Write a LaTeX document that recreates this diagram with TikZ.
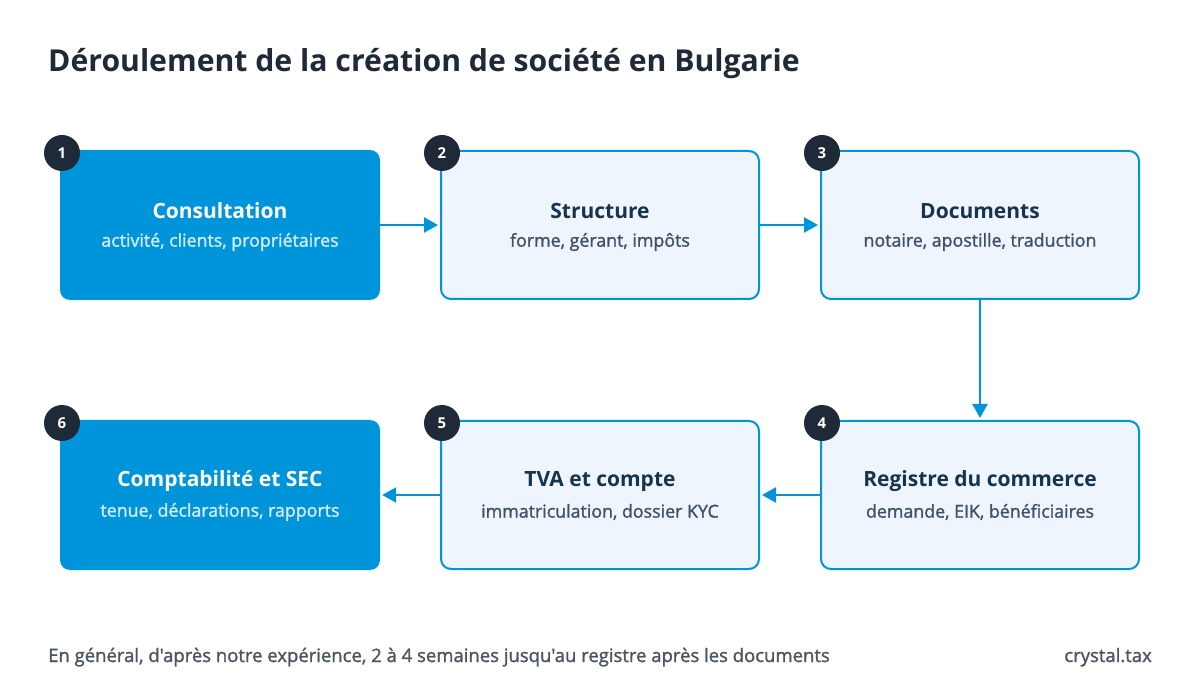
\documentclass[tikz,border=0pt]{standalone}
\usepackage{fontspec}
\setmainfont{Open Sans}
\newfontfamily\semifont{Open Sans}[FakeBold=1.4]
\usetikzlibrary{arrows.meta}
\definecolor{stepblue}{HTML}{0095DA}
\definecolor{steplight}{HTML}{EEF5FC}
\definecolor{navy}{HTML}{1E2A38}
\definecolor{titleblue}{HTML}{17344F}
\definecolor{subgray}{HTML}{3E5369}
\definecolor{subwhite}{HTML}{D4ECF9}
\definecolor{footgray}{HTML}{4B5563}
\tikzset{
  darkbox/.style={fill=stepblue, rounded corners=10pt, minimum width=320pt, minimum height=150pt, inner sep=0pt},
  lightbox/.style={fill=steplight, draw=stepblue, line width=2pt, rounded corners=10pt, minimum width=318pt, minimum height=148pt, inner sep=0pt},
  badge/.style={circle, fill=navy, minimum size=36pt, inner sep=0pt, text=white, font=\bfseries\fontsize{15}{15}\selectfont},
  head/.style={font=\bfseries\fontsize{21}{24}\selectfont},
  sub/.style={font=\semifont\fontsize{17.8}{20}\selectfont},
  flow/.style={draw=stepblue, line width=2.5pt, -{Triangle[length=14pt,width=15pt]}, shorten >=2pt},
}
\begin{document}
\begin{tikzpicture}[x=1pt,y=-1pt]
                    \fill[white] (0,0) rectangle (1200,700);
                    \useasboundingbox (0,0) rectangle (1200,700);
                    \node[anchor=base west, inner sep=0pt, text=navy, font=\bfseries\fontsize{30.2}{34}\selectfont] (title) at (48,72) {Déroulement de la création de société en Bulgarie};

                    % first row
                    \node[darkbox] (s1) at (220,225) {};
                    \node[lightbox] (s2) at (600,225) {};
                    \node[lightbox] (s3) at (980,225) {};
                    % second row
                    \node[lightbox] (s4) at (980,495) {};
                    \node[lightbox] (s5) at (600,495) {};
                    \node[darkbox] (s6) at (220,495) {};

                    \node[head, text=white] (h1) at (220,211) {Consultation};
                    \node[sub, text=subwhite] (t1) at (220,242) {activité, clients, propriétaires};
                    \node[head, text=titleblue] (h2) at (600,211) {Structure};
                    \node[sub, text=subgray] (t2) at (600,242) {forme, gérant, impôts};
                    \node[head, text=titleblue] (h3) at (980,211) {Documents};
                    \node[sub, text=subgray] (t3) at (980,242) {notaire, apostille, traduction};
                    \node[head, text=titleblue] (h4) at (980,481) {Registre du commerce};
                    \node[sub, text=subgray] (t4) at (980,512) {demande, EIK, bénéficiaires};
                    \node[head, text=titleblue] (h5) at (600,481) {TVA et compte};
                    \node[sub, text=subgray] (t5) at (600,512) {immatriculation, dossier KYC};
                    \node[head, text=white] (h6) at (220,481) {Comptabilité et SEC};
                    \node[sub, text=subwhite] (t6) at (220,512) {tenue, déclarations, rapports};

                    \node[badge] (b1) at (62,153) {1};
                    \node[badge] (b2) at (442,153) {2};
                    \node[badge] (b3) at (822,153) {3};
                    \node[badge] (b4) at (822,423) {4};
                    \node[badge] (b5) at (442,423) {5};
                    \node[badge] (b6) at (62,423) {6};

                    \draw[flow] (s1.east) -- (s2.west);
                    \draw[flow] (s2.east) -- (s3.west);
                    \draw[flow] (s3.south) -- (s4.north);
                    \draw[flow] (s4.west) -- (s5.east);
                    \draw[flow] (s5.west) -- (s6.east);

                    \node[anchor=base west, inner sep=0pt, text=footgray, font=\semifont\fontsize{18.5}{21}\selectfont] (note) at (48,662) {En général, d'après notre expérience, 2 à 4 semaines jusqu'au registre après les documents};
                    \node[anchor=base east, inner sep=0pt, text=footgray, font=\semifont\fontsize{18.5}{21}\selectfont] (brand) at (1152,662) {crystal.tax};
                \end{tikzpicture}
\end{document}
